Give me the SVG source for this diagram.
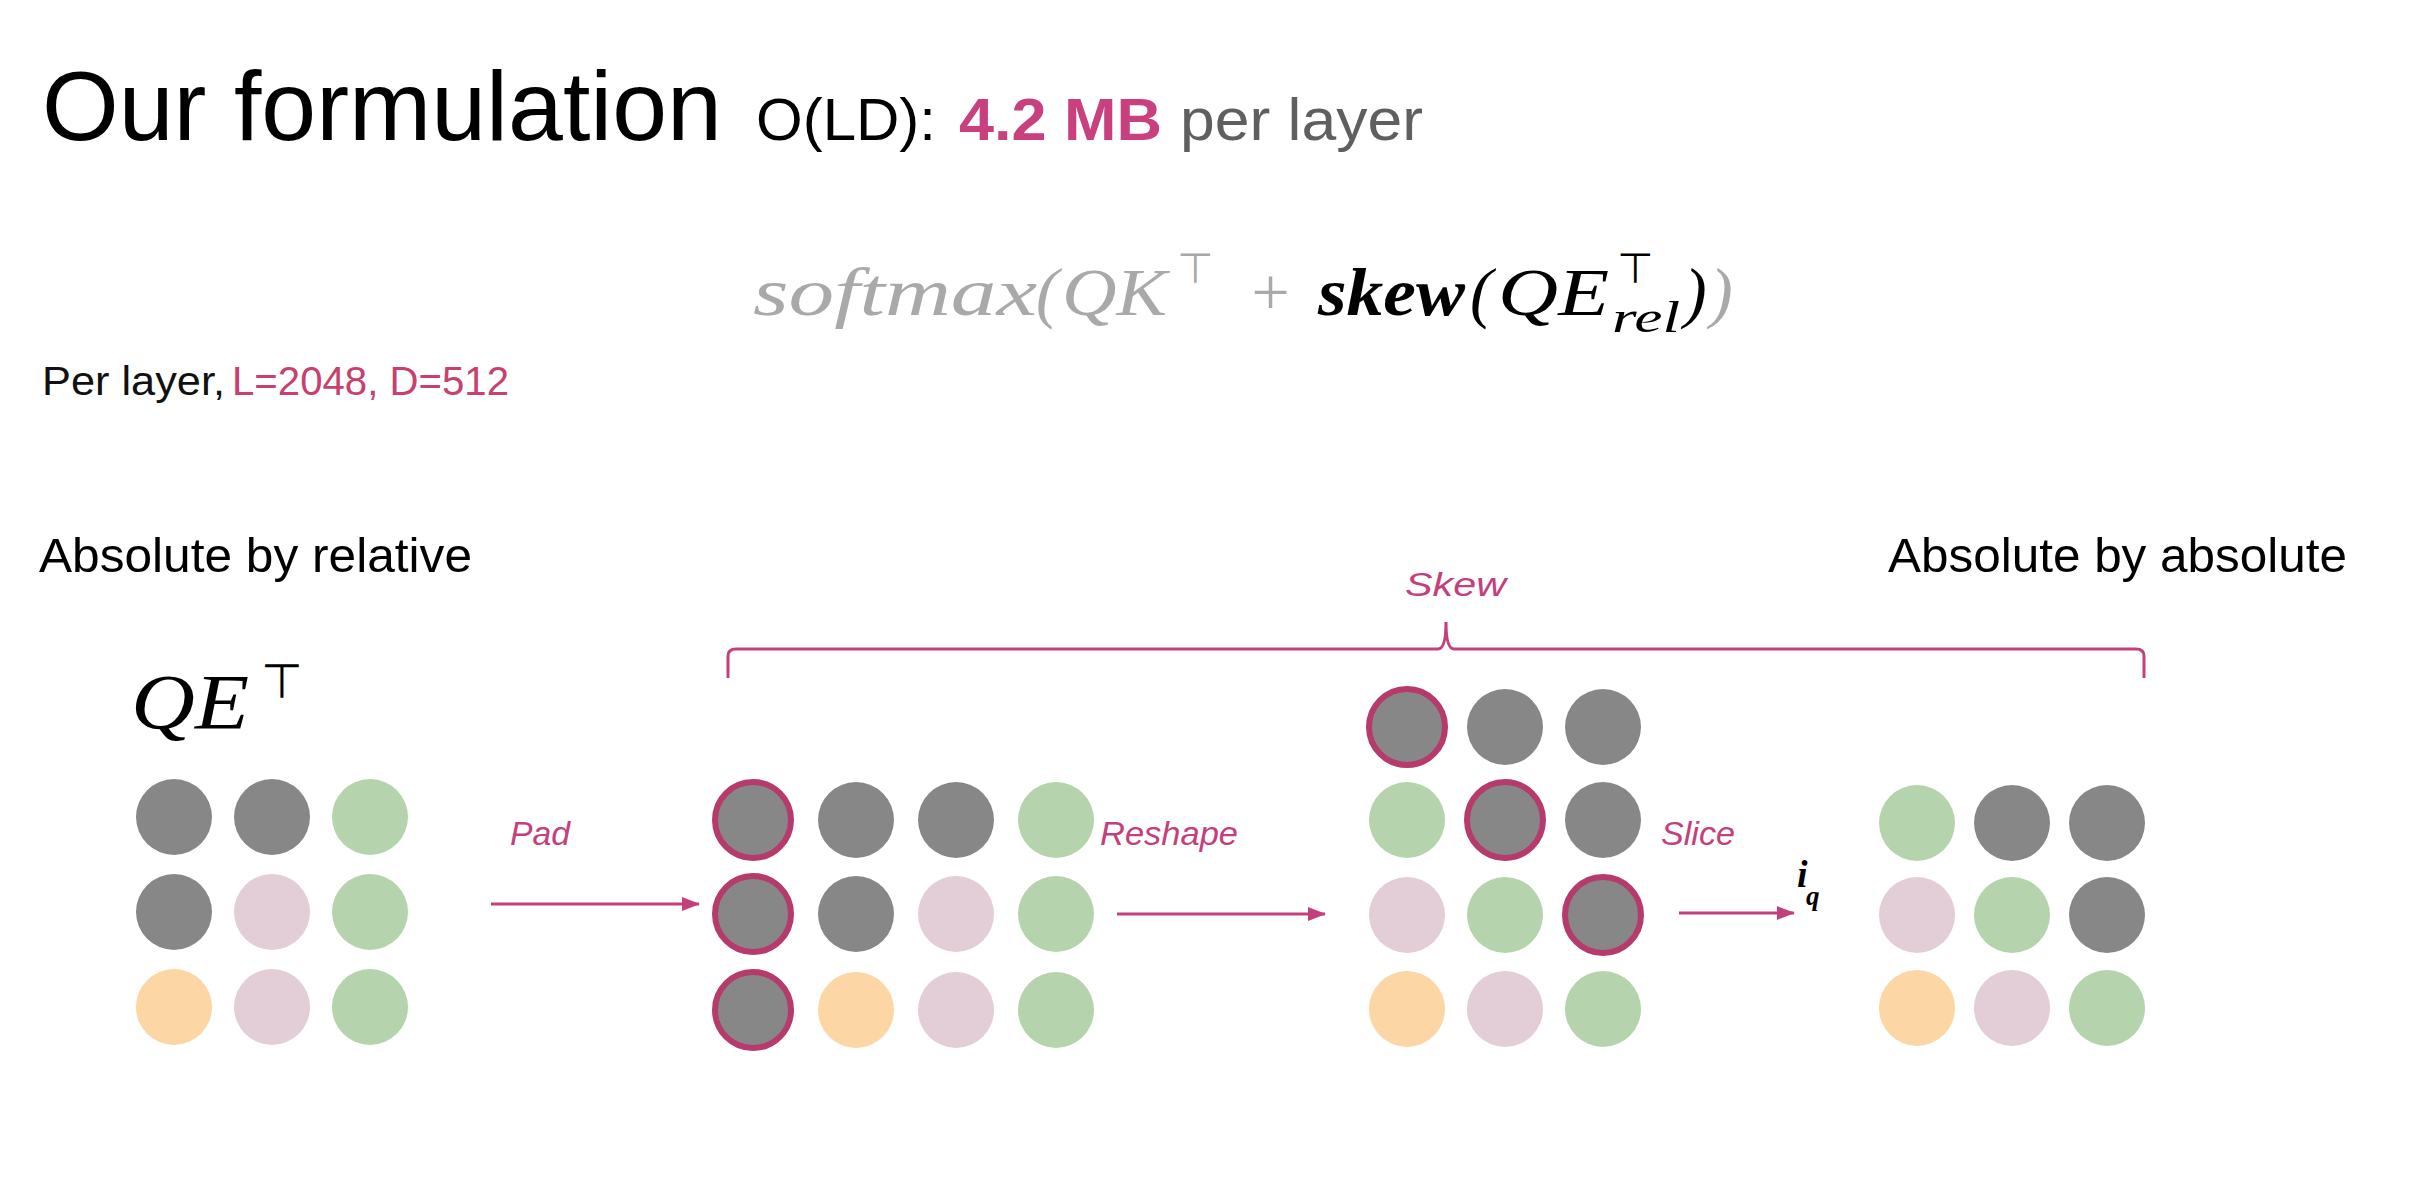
<svg xmlns="http://www.w3.org/2000/svg" width="2436" height="1180" viewBox="0 0 2436 1180">
  <style>
    .sans { font-family: "Liberation Sans", Arial, sans-serif; }
    .math { font-family: "Liberation Serif", "Times New Roman", serif; font-style: italic; }
    .sym { font-family: "DejaVu Sans", sans-serif; font-style: normal; }
    .lbl { font-family: "Liberation Sans", Arial, sans-serif; font-style: italic; fill: #c4407c; font-size: 34px; }
    .gray { fill: #878787; }
    .green { fill: #b5d3ad; }
    .pink { fill: #e3cdd6; }
    .orange { fill: #fdd6a5; }
    .ring { fill: #878787; stroke: #b63a6c; stroke-width: 6; }
    .conn { fill: none; stroke: #c4407c; stroke-width: 3; }
    .fgray { fill: #a9a9a9; }
  </style>
  <defs>
    <marker id="arrow" viewBox="0 0 18 14" refX="17" refY="7" markerWidth="18" markerHeight="14" markerUnits="userSpaceOnUse" orient="auto">
      <path d="M0,0 L18,7 L0,14 Z" fill="#c4407c"/>
    </marker>
  </defs>

  <rect width="2436" height="1180" fill="#ffffff"/>

  <!-- Heading -->
  <g id="title">
    <text class="sans" x="42" y="140" font-size="98" fill="#000" textLength="680" lengthAdjust="spacingAndGlyphs">Our formulation</text>
    <text class="sans" x="756" y="140" font-size="60" fill="#000" textLength="180" lengthAdjust="spacingAndGlyphs">O(LD):</text>
    <text class="sans" x="959" y="140" font-size="60" font-weight="bold" fill="#c8407e" textLength="203" lengthAdjust="spacingAndGlyphs">4.2 MB</text>
    <text class="sans" x="1180" y="140" font-size="60" fill="#5f5f5f" textLength="243" lengthAdjust="spacingAndGlyphs">per layer</text>
  </g>

  <!-- Attention formula -->
  <g id="formula" font-size="68">
    <text class="math fgray" x="753" y="315" textLength="284" lengthAdjust="spacingAndGlyphs">softmax</text>
    <text class="math fgray" x="1036" y="315" font-style="normal">(</text>
    <text class="math fgray" x="1062" y="315" textLength="105" lengthAdjust="spacingAndGlyphs">QK</text>
    <text class="sym fgray" x="1177" y="283" font-size="42">⊤</text>
    <text class="math fgray" x="1270" y="315" font-style="normal" text-anchor="middle">+</text>
    <text class="math" x="1318" y="315" font-weight="bold" fill="#000" textLength="147" lengthAdjust="spacingAndGlyphs">skew</text>
    <text class="math" x="1470" y="315" font-style="normal" fill="#000">(</text>
    <text class="math" x="1498" y="315" fill="#000" textLength="111" lengthAdjust="spacingAndGlyphs">QE</text>
    <text class="sym" x="1617" y="283" font-size="42" fill="#000">⊤</text>
    <text class="math" x="1612" y="332" font-size="44" fill="#000" textLength="68" lengthAdjust="spacingAndGlyphs">rel</text>
    <text class="math" x="1684" y="315" font-style="normal" fill="#000">)</text>
    <text class="math fgray" x="1710" y="315" font-style="normal">)</text>
  </g>

  <g id="params">
    <text class="sans" x="42" y="395" font-size="41" fill="#111" textLength="183" lengthAdjust="spacingAndGlyphs">Per layer,</text>
    <text class="sans" x="232" y="395" font-size="41" fill="#c8406e" textLength="277" lengthAdjust="spacingAndGlyphs">L=2048, D=512</text>
  </g>

  <g id="heading-left">
    <text class="sans" x="39" y="572" font-size="49" fill="#000" textLength="433" lengthAdjust="spacingAndGlyphs">Absolute by relative</text>
  </g>
  <g id="heading-right">
    <text class="sans" x="1888" y="572" font-size="49" fill="#000" textLength="459" lengthAdjust="spacingAndGlyphs">Absolute by absolute</text>
  </g>

  <!-- Input matrix QE^T -->
  <g id="qe-matrix">
    <text class="math" x="131" y="728" font-size="78" fill="#000" textLength="118" lengthAdjust="spacingAndGlyphs">QE</text>
    <text class="sym" x="261" y="698" font-size="48" fill="#000">⊤</text>
    <circle class="gray" cx="174" cy="817" r="38"/>
    <circle class="gray" cx="272" cy="817" r="38"/>
    <circle class="green" cx="370" cy="817" r="38"/>
    <circle class="gray" cx="174" cy="912" r="38"/>
    <circle class="pink" cx="272" cy="912" r="38"/>
    <circle class="green" cx="370" cy="912" r="38"/>
    <circle class="orange" cx="174" cy="1007" r="38"/>
    <circle class="pink" cx="272" cy="1007" r="38"/>
    <circle class="green" cx="370" cy="1007" r="38"/>
  </g>

  <!-- Padded matrix -->
  <g id="padded-matrix">
    <circle class="ring" cx="753" cy="820" r="38"/>
    <circle class="gray" cx="856" cy="820" r="38"/>
    <circle class="gray" cx="956" cy="820" r="38"/>
    <circle class="green" cx="1056" cy="820" r="38"/>
    <circle class="ring" cx="753" cy="914" r="38"/>
    <circle class="gray" cx="856" cy="914" r="38"/>
    <circle class="pink" cx="956" cy="914" r="38"/>
    <circle class="green" cx="1056" cy="914" r="38"/>
    <circle class="ring" cx="753" cy="1010" r="38"/>
    <circle class="orange" cx="856" cy="1010" r="38"/>
    <circle class="pink" cx="956" cy="1010" r="38"/>
    <circle class="green" cx="1056" cy="1010" r="38"/>
  </g>

  <!-- Reshaped matrix -->
  <g id="reshaped-matrix">
    <circle class="ring" cx="1407" cy="727" r="38"/>
    <circle class="gray" cx="1505" cy="727" r="38"/>
    <circle class="gray" cx="1603" cy="727" r="38"/>
    <circle class="green" cx="1407" cy="820" r="38"/>
    <circle class="ring" cx="1505" cy="820" r="38"/>
    <circle class="gray" cx="1603" cy="820" r="38"/>
    <circle class="pink" cx="1407" cy="915" r="38"/>
    <circle class="green" cx="1505" cy="915" r="38"/>
    <circle class="ring" cx="1603" cy="915" r="38"/>
    <circle class="orange" cx="1407" cy="1009" r="38"/>
    <circle class="pink" cx="1505" cy="1009" r="38"/>
    <circle class="green" cx="1603" cy="1009" r="38"/>
  </g>

  <!-- Output matrix -->
  <g id="output-matrix">
    <circle class="green" cx="1917" cy="823" r="38"/>
    <circle class="gray" cx="2012" cy="823" r="38"/>
    <circle class="gray" cx="2107" cy="823" r="38"/>
    <circle class="pink" cx="1917" cy="915" r="38"/>
    <circle class="green" cx="2012" cy="915" r="38"/>
    <circle class="gray" cx="2107" cy="915" r="38"/>
    <circle class="orange" cx="1917" cy="1008" r="38"/>
    <circle class="pink" cx="2012" cy="1008" r="38"/>
    <circle class="green" cx="2107" cy="1008" r="38"/>
  </g>

  <g id="iq-label">
    <text class="math" x="1797" y="887" font-size="38" font-weight="bold" fill="#000">i</text>
    <text class="math" x="1806" y="905" font-size="27" font-weight="bold" fill="#000">q</text>
  </g>

  <!-- Step labels -->
  <g id="step-labels">
    <text class="lbl" x="510" y="845" textLength="60" lengthAdjust="spacingAndGlyphs">Pad</text>
    <text class="lbl" x="1100" y="845" textLength="138" lengthAdjust="spacingAndGlyphs">Reshape</text>
    <text class="lbl" x="1661" y="845" textLength="74" lengthAdjust="spacingAndGlyphs">Slice</text>
    <text class="lbl" x="1405" y="596" font-size="40" textLength="101" lengthAdjust="spacingAndGlyphs">Skew</text>
  </g>

  <!-- Connectors -->
  <g id="connectors">
    <path class="conn" d="M728,678 L728,656 Q728,649 736,649 L1438,649 Q1446,649 1446,622 Q1446,649 1454,649 L2136,649 Q2144,649 2144,656 L2144,678"/>
    <line class="conn" x1="491" y1="904" x2="699" y2="904" marker-end="url(#arrow)"/>
    <line class="conn" x1="1117" y1="914" x2="1325" y2="914" marker-end="url(#arrow)"/>
    <line class="conn" x1="1679" y1="913" x2="1794" y2="913" marker-end="url(#arrow)"/>
  </g>
</svg>
